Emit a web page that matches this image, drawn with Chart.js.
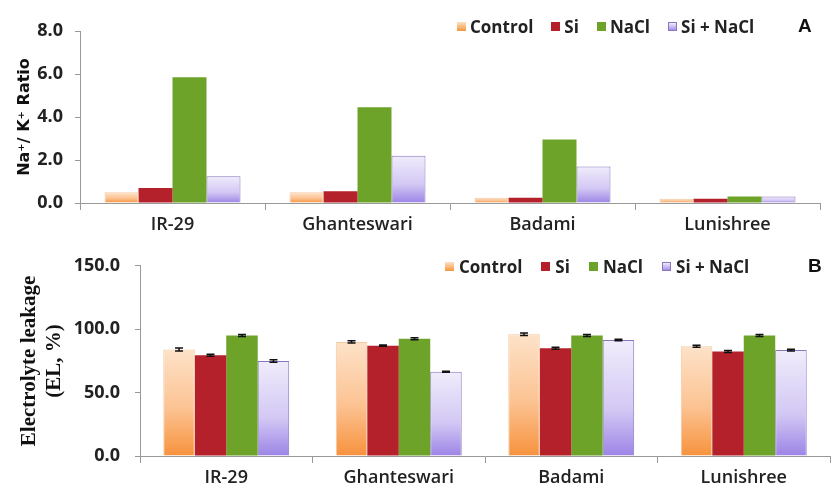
<!DOCTYPE html>
<html lang="en">
<head>
    <meta charset="UTF-8">
    <title>Na+/K+ ratio and electrolyte leakage</title>
    <script src="https://cdn.jsdelivr.net/npm/chart.js"></script>
    <style>
        body { margin: 0; background: #fff; width: 834px; height: 490px; overflow: hidden; }
        .wrap { position: absolute; left: 0; width: 834px; }
        .legend { position: absolute; display: flex; align-items: center; font: bold 17px "Open Sans", sans-serif; color: #222; }
        .legend .item { display: flex; align-items: center; margin-right: 18px; }
        .legend .box { width: 9px; height: 9px; margin-right: 4px; box-sizing: border-box; }
        #legendB .box { margin-right: 5px; }
        #legendB .item { margin-right: 19px; }
        .panel { position: absolute; font: bold 19px "Liberation Sans", Arial, sans-serif; color: #111; }
    </style>
</head>
<body>
    <div class="wrap" style="top:0;height:240px"><canvas id="chartA"></canvas></div>
    <div class="wrap" style="top:240px;height:250px"><canvas id="chartB"></canvas></div>
    <div class="legend" id="legendA" style="left:457px;top:15px"></div>
    <div class="legend" id="legendB" style="left:445px;top:255px"></div>
    <div class="panel" style="left:798px;top:15px">A</div>
    <div class="panel" style="left:808px;top:255px">B</div>

    <script>
        // Data
        const cultivars = ['IR-29', 'Ghanteswari', 'Badami', 'Lunishree'];
        const treatments = ['Control', 'Si', 'NaCl', 'Si + NaCl'];

        // Panel A: Na+/K+ ratio
        const ratioControl = [0.5, 0.5, 0.25, 0.2];
        const ratioSi      = [0.7, 0.55, 0.25, 0.2];
        const ratioNaCl    = [5.85, 4.45, 2.95, 0.3];
        const ratioSiNaCl  = [1.25, 2.2, 1.7, 0.3];

        // Panel B: electrolyte leakage (%)
        const elControl = [84, 90, 96, 86.5];
        const elSi      = [79.5, 87, 85, 82.5];
        const elNaCl    = [95, 92.5, 95, 95];
        const elSiNaCl  = [75, 66.5, 91.5, 83.5];
        const elErrControl = [1.2, 0.8, 1.0, 0.8];
        const elErrSi      = [0.8, 0.5, 0.8, 0.8];
        const elErrNaCl    = [0.8, 0.8, 0.8, 0.8];
        const elErrSiNaCl  = [1.0, 0.4, 0.6, 0.6];

        const ratioTicks = [0, 2, 4, 6, 8];
        const elTicks = [0, 50, 100, 150];

        const tickFont = { family: 'Open Sans', size: 18, weight: 'bold' };
        const catFont = { family: 'Open Sans', size: 18, weight: '600' };

        // gradient per bar, pale at the top, strong at the bottom
        function barGradient(stops, solid) {
            return function (c) {
                const chart = c.chart;
                const area = chart.chartArea;
                if (!area || c.parsed === undefined) return solid;
                const y = chart.scales.y;
                const top = y.getPixelForValue(c.parsed.y);
                const bottom = y.getPixelForValue(0);
                if (!(bottom - top > 1)) return solid;
                const g = chart.ctx.createLinearGradient(0, top, 0, bottom);
                stops.forEach(s => g.addColorStop(s[0], s[1]));
                return g;
            };
        }
        const controlStops = [[0, '#fde2c8'], [0.55, '#fcc393'], [1, '#f7923d']];
        const siNaClStops = [[0, '#f0ecfb'], [0.6, '#d3c8f4'], [1, '#9c84e6']];

        function makeDatasets(control, si, nacl, sinacl) {
            return [
                { label: treatments[0], data: control, backgroundColor: barGradient(controlStops, '#f9b37a'), borderColor: '#f4c9a2', borderWidth: 1 },
                { label: treatments[1], data: si, backgroundColor: '#b5212a', borderWidth: 0 },
                { label: treatments[2], data: nacl, backgroundColor: '#6da329', borderWidth: 0 },
                { label: treatments[3], data: sinacl, backgroundColor: barGradient(siNaClStops, '#c7b8f0'), borderColor: '#8a76c0', borderWidth: 1 }
            ];
        }

        // small black error bars for panel B
        const errorBars = {
            id: 'errorBars',
            afterDatasetsDraw(chart, args, opts) {
                if (!opts.errors) return;
                const ctx = chart.ctx;
                const y = chart.scales.y;
                ctx.save();
                ctx.strokeStyle = '#111';
                ctx.lineWidth = 1.5;
                chart.data.datasets.forEach((ds, i) => {
                    const meta = chart.getDatasetMeta(i);
                    meta.data.forEach((bar, j) => {
                        const e = opts.errors[i][j];
                        const v = ds.data[j];
                        const y1 = y.getPixelForValue(v + e);
                        const y2 = y.getPixelForValue(v - e);
                        ctx.beginPath();
                        ctx.moveTo(bar.x, y1); ctx.lineTo(bar.x, y2);
                        ctx.moveTo(bar.x - 4, y1); ctx.lineTo(bar.x + 4, y1);
                        ctx.moveTo(bar.x - 4, y2); ctx.lineTo(bar.x + 4, y2);
                        ctx.stroke();
                    });
                });
                ctx.restore();
            }
        };

        function makeOptions(cfg) {
            return {
                responsive: true,
                maintainAspectRatio: false,
                animation: false,
                layout: { padding: { top: cfg.padTop, right: cfg.padRight, left: 0, bottom: 0 } },
                plugins: {
                    legend: { display: false },
                    tooltip: { enabled: false },
                    errorBars: { errors: cfg.errors }
                },
                scales: {
                    x: {
                        grid: { offset: true, drawOnChartArea: false, drawTicks: true, tickLength: 7, color: '#999' },
                        border: { color: '#999' },
                        ticks: { font: catFont, color: '#222', padding: 4 },
                        afterFit(s) { s.height = cfg.xHeight; }
                    },
                    y: {
                        min: cfg.min, max: cfg.max,
                        afterBuildTicks(s) { s.ticks = cfg.ticks.map(v => ({ value: v })); },
                        grid: { drawOnChartArea: false, drawTicks: true, tickLength: 5, color: '#999' },
                        border: { color: '#999' },
                        ticks: { font: tickFont, color: '#222', padding: cfg.tickPad, callback: v => v.toFixed(1) },
                        title: { display: true, text: cfg.title, font: cfg.titleFont, color: '#111', padding: { top: cfg.titlePad, bottom: 0 } },
                        afterFit(s) { s.width = cfg.yWidth; }
                    }
                }
            };
        }

        new Chart(document.getElementById('chartA'), {
            type: 'bar',
            data: { labels: cultivars, datasets: makeDatasets(ratioControl, ratioSi, ratioNaCl, ratioSiNaCl).map(d => Object.assign(d, { categoryPercentage: 0.735, barPercentage: 1 })) },
            options: makeOptions({
                padTop: 31, padRight: 14, xHeight: 37, yWidth: 80, min: 0, max: 8, ticks: ratioTicks, tickPad: 12,
                title: 'Na\u207A/ K\u207A Ratio', titleFont: { family: 'DejaVu Sans', size: 16, weight: 'bold', lineHeight: 1.2 }, titlePad: 15
            }),
            plugins: [errorBars]
        });

        new Chart(document.getElementById('chartB'), {
            type: 'bar',
            data: { labels: cultivars, datasets: makeDatasets(elControl, elSi, elNaCl, elSiNaCl).map(d => Object.assign(d, { categoryPercentage: 0.73, barPercentage: 1 })) },
            options: makeOptions({
                padTop: 21, padRight: 4, xHeight: 34, yWidth: 140, min: 0, max: 150, ticks: elTicks, tickPad: 15,
                title: ['Electrolyte leakage', '(EL, %)'], titleFont: { family: 'Liberation Serif', size: 21, weight: 'bold', lineHeight: 1.19 }, titlePad: 17,
                errors: [elErrControl, elErrSi, elErrNaCl, elErrSiNaCl]
            }),
            plugins: [errorBars]
        });

        // HTML legends
        const legendBoxes = [
            'background:linear-gradient(#fde0c5,#f7963e)',
            'background:#b5212a',
            'background:#6da329',
            'background:linear-gradient(#f1eefb,#a58ee8);border:1px solid #8a76c0'
        ];
        ['legendA', 'legendB'].forEach(id => {
            document.getElementById(id).innerHTML = treatments.map((t, i) =>
                '<span class="item"><span class="box" style="' + legendBoxes[i] + '"></span>' + t + '</span>'
            ).join('');
        });
    </script>
</body>
</html>
